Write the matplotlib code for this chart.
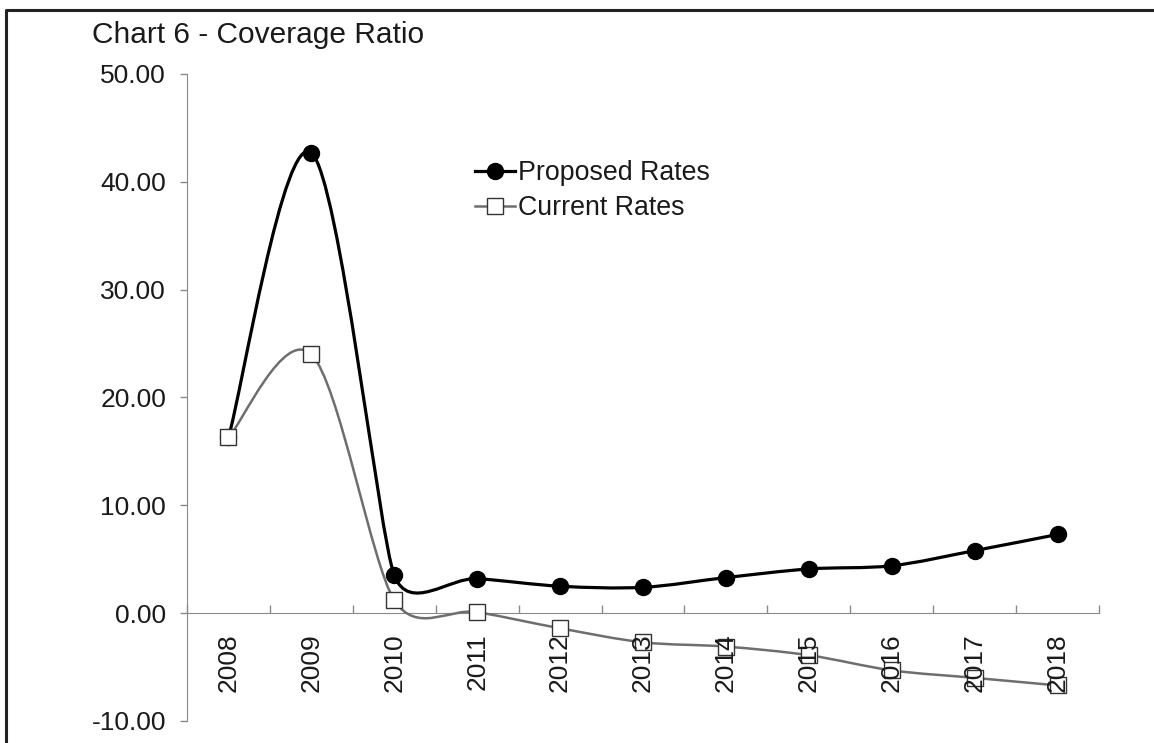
import numpy as np
import matplotlib.pyplot as plt
from matplotlib.path import Path
from matplotlib.patches import PathPatch
from matplotlib.lines import Line2D

plt.rcParams['font.family'] = ['Liberation Sans', 'DejaVu Sans']

years = ['2008', '2009', '2010', '2011', '2012', '2013', '2014', '2015', '2016', '2017', '2018']
proposed = [16.3, 42.7, 3.5, 3.2, 2.5, 2.4, 3.3, 4.1, 4.4, 5.8, 7.3]
current = [16.3, 24.0, 1.2, 0.1, -1.4, -2.7, -3.1, -3.9, -5.3, -6.0, -6.7]
yticks = [-10, 0, 10, 20, 30, 40, 50]

W, H = 1154, 743
FS = 19
TXT = '#1a1a1a'
AX = '#8a8a8a'


def ctrl_factor(p0, p1, p2, s):
  # excel style tension: 1/6 unless neighbouring segments differ a lot
  d01 = np.hypot(*((p1 - p0) * s))
  d12 = np.hypot(*((p2 - p1) * s))
  d02 = np.hypot(*((p2 - p0) * s))
  if d02 == 0:
    return 0.
  if d01 == 0 or d12 == 0:
    return 1. / 6.
  if d01 / 6. < d12 / 2. and d12 / 6. < d01 / 2.:
    return 1. / 6.
  return min(d01, d12) / (2. * d02)


def smooth_path(ys, s):
  pts = np.column_stack([np.arange(len(ys)), ys]).astype(float)
  n = len(pts)
  f = [ctrl_factor(pts[max(i - 1, 0)], pts[i], pts[min(i + 1, n - 1)], s) for i in range(n)]
  verts = [pts[0]]
  codes = [Path.MOVETO]
  for i in range(n - 1):
    p0 = pts[max(i - 1, 0)]
    p1 = pts[i]
    p2 = pts[i + 1]
    p3 = pts[min(i + 2, n - 1)]
    verts += [p1 + f[i] * (p2 - p0), p2 - f[i + 1] * (p3 - p1), p2]
    codes += [Path.CURVE4] * 3
  return Path(verts, codes)


fig = plt.figure(figsize=(W / 100, H / 100), dpi=100)
ax = fig.add_axes([187 / W, 1 - 721 / H, (1099 - 187) / W, (721 - 74) / H])
x = np.arange(len(years))

ax.set_xlim(-0.5, len(years) - 0.5)
ax.set_ylim(-10, 50)

# pixel size of one data unit, so the smoothing works in screen space like excel
t = ax.transData.transform([[0, 0], [1, 1]])
scale = np.abs(t[1] - t[0])

ax.add_patch(PathPatch(smooth_path(proposed, scale), fill=False, edgecolor='black', lw=2.3, zorder=3))
ax.add_patch(PathPatch(smooth_path(current, scale), fill=False, edgecolor='#6e6e6e', lw=1.8, zorder=3))
ax.plot(x, proposed, ls='none', marker='o', ms=11.5, color='black', zorder=4)
ax.plot(x, current, ls='none', marker='s', ms=11, mfc='white', mec='#333333', mew=1.0, zorder=5)

ax.set_yticks(yticks)
ax.set_yticklabels(['%.2f' % v for v in yticks], fontsize=FS, color=TXT)
ax.tick_params(axis='y', direction='out', length=5, width=1, color=AX, pad=10)

for s in ['top', 'right']:
  ax.spines[s].set_visible(False)
ax.spines['left'].set_color(AX)
ax.spines['bottom'].set_color(AX)
ax.spines['bottom'].set_position(('data', 0))
ax.set_xticks(np.arange(len(years) + 1) - 0.5)
ax.set_xticklabels([])
ax.tick_params(axis='x', direction='in', length=6, width=1, color=AX)

# year labels sit on top of the line and markers, as in the original
for i, yr in enumerate(years):
  ax.text(i, -1.85, yr, rotation=90, ha='center', va='top', fontsize=FS, color=TXT, zorder=6)

handles = [Line2D([], [], color='black', lw=2.3, marker='o', ms=11.5),
           Line2D([], [], color='#6e6e6e', lw=1.8, marker='s', ms=11, mfc='white', mec='#333333')]
fig.legend(handles, ['Proposed Rates', 'Current Rates'], loc='upper left',
           bbox_to_anchor=(475 / W, 1 - 160 / H), frameon=False, fontsize=19.3,
           handlelength=1.5, handletextpad=0.1, borderpad=0, borderaxespad=0,
           labelspacing=0.34, labelcolor=TXT)

fig.text(92 / W, 1 - 43 / H, 'Chart 6 - Coverage Ratio', fontsize=21.5, color=TXT, va='baseline')

# partial frame round the chart (left and top edges only)
fig.add_artist(Line2D([5.5 / W, 5.5 / W, 1], [0, 1 - 9.5 / H, 1 - 9.5 / H], color='#222222', lw=2.2))

fig.savefig('out.png', dpi=100)
